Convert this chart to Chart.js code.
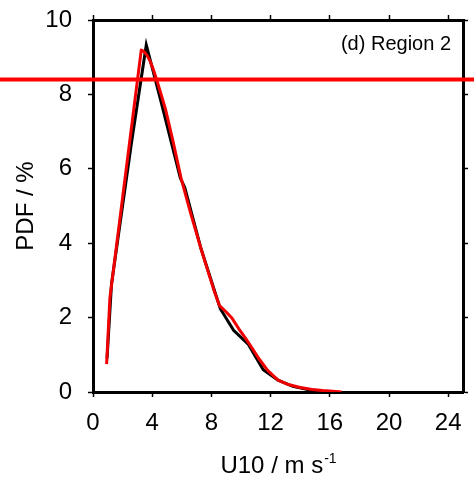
<!DOCTYPE html>
<html>
<head>
<meta charset="utf-8">
<script src="https://cdn.jsdelivr.net/npm/chart.js@4.4.0/dist/chart.umd.min.js"></script>
<style>
  html, body { margin: 0; padding: 0; background: #fff; }
  #wrap { width: 474px; height: 487px; }
</style>
</head>
<body>
<div id="wrap"><canvas id="pdfChart"></canvas></div>
<script>
// 10 m wind speed (m/s) vs PDF (%) - black curve
const obsSpeed = [0.95, 1.25, 2.6, 3.6, 4.6, 5.9, 6.2, 7.3, 8.6, 9.5, 10.5, 11.5, 12.5, 13.5, 14.5, 15.5];
const obsPdf   = [0.9, 2.9, 6.7, 9.33, 7.8, 5.75, 5.5, 3.85, 2.24, 1.66, 1.28, 0.6, 0.32, 0.15, 0.07, 0.02];

// red curve
const modSpeed = [0.92, 1.14, 3.26, 3.45, 3.65, 3.85, 4.05, 4.3, 4.6, 4.9, 5.4, 5.95, 6.6, 7.3, 7.75, 8.2, 8.55,
                  9.0, 9.4, 9.85, 10.3, 10.8, 11.2, 11.8, 12.5, 13.2, 14.0, 14.8, 15.5, 16.2, 16.8];
const modPdf   = [0.75, 2.52, 9.19, 9.15, 9.05, 8.9, 8.7, 8.4, 8.0, 7.6, 6.75, 5.75, 4.8, 3.85, 3.27, 2.7, 2.32,
                  2.15, 1.98, 1.7, 1.45, 1.15, 0.9, 0.58, 0.32, 0.2, 0.12, 0.07, 0.04, 0.02, 0.0];

// horizontal reference level (%)
const refLevel = 8.4;

const xTicks = [0, 4, 8, 12, 16, 20, 24];
const yTicks = [0, 2, 4, 6, 8, 10];
const panelLabel = '(d) Region 2';

const FONT = "'Liberation Sans', Arial, Helvetica, sans-serif";

const toPoints = (xs, ys) => xs.map((x, i) => ({ x: x, y: ys[i] }));
const setTicks = vals => axis => { axis.ticks = vals.map(v => ({ value: v })); };

const tickGrid = {
  display: true,
  drawOnChartArea: false,
  drawTicks: true,
  tickLength: 5,
  tickColor: '#000',
  tickWidth: 1.5
};
const frame = { display: true, color: '#000', width: 3 };

// extra drawing: panel label, x title with superscript, reference line
const extras = {
  id: 'extras',
  afterDraw(chart) {
    const { ctx, chartArea, scales } = chart;
    ctx.save();
    ctx.fillStyle = '#000';

    ctx.font = '20px ' + FONT;
    ctx.textAlign = 'right';
    ctx.textBaseline = 'alphabetic';
    ctx.fillText(panelLabel, chartArea.right - 12, chartArea.top + 30);

    // x axis title: U10 / m s^-1
    const main = 'U10 / m s';
    const sup = '-1';
    ctx.font = '24px ' + FONT;
    const wMain = ctx.measureText(main).width;
    ctx.font = '14px ' + FONT;
    const wSup = ctx.measureText(sup).width;
    const cx = (chartArea.left + chartArea.right) / 2;
    const x0 = cx - (wMain + wSup) / 2;
    const base = chartArea.bottom + 81;
    ctx.textAlign = 'left';
    ctx.font = '24px ' + FONT;
    ctx.fillText(main, x0, base);
    ctx.font = '14px ' + FONT;
    ctx.fillText(sup, x0 + wMain + 1, base - 10);

    const y = scales.y.getPixelForValue(refLevel);
    ctx.strokeStyle = '#ff0000';
    ctx.lineWidth = 4;
    ctx.beginPath();
    ctx.moveTo(0, y);
    ctx.lineTo(chart.width, y);
    ctx.stroke();
    ctx.restore();
  }
};

new Chart(document.getElementById('pdfChart'), {
  type: 'line',
  data: {
    datasets: [{
      label: 'red',
      data: toPoints(modSpeed, modPdf),
      borderColor: '#f00000',
      borderWidth: 3,
      borderJoinStyle: 'round',
      pointRadius: 0,
      tension: 0,
      fill: false
    }, {
      label: 'black',
      data: toPoints(obsSpeed, obsPdf),
      borderColor: '#000',
      borderWidth: 3,
      pointRadius: 0,
      tension: 0,
      fill: false
    }]
  },
  options: {
    responsive: true,
    maintainAspectRatio: false,
    animation: false,
    layout: { padding: 0 },
    plugins: {
      legend: { display: false },
      tooltip: { enabled: false }
    },
    scales: {
      x: {
        type: 'linear',
        position: 'bottom',
        min: 0,
        max: 25,
        afterBuildTicks: setTicks(xTicks),
        afterFit: s => { s.height = 95; },
        grid: tickGrid,
        border: frame,
        ticks: { color: '#000', padding: 12, maxRotation: 0, font: { family: FONT, size: 24 } }
      },
      x2: {
        type: 'linear',
        position: 'top',
        min: 0,
        max: 25,
        afterBuildTicks: setTicks(xTicks),
        afterFit: s => { s.height = 20; },
        grid: tickGrid,
        border: frame,
        ticks: { display: false }
      },
      y: {
        type: 'linear',
        position: 'left',
        min: 0,
        max: 10,
        afterBuildTicks: setTicks(yTicks),
        // fixed width; labels may overhang the plot top without pushing it down
        afterFit: s => { s.width = 93; s.paddingTop = 0; s.paddingBottom = 0; },
        grid: tickGrid,
        border: frame,
        ticks: { color: '#000', padding: 16, font: { family: FONT, size: 24 } },
        title: {
          display: true,
          text: 'PDF / %',
          color: '#000',
          padding: { top: 12, bottom: 0 },
          font: { family: FONT, size: 24 }
        }
      },
      y2: {
        type: 'linear',
        position: 'right',
        min: 0,
        max: 10,
        afterBuildTicks: setTicks(yTicks),
        afterFit: s => { s.width = 8; },
        grid: tickGrid,
        border: frame,
        ticks: { display: false }
      }
    }
  },
  plugins: [extras]
});
</script>
</body>
</html>
